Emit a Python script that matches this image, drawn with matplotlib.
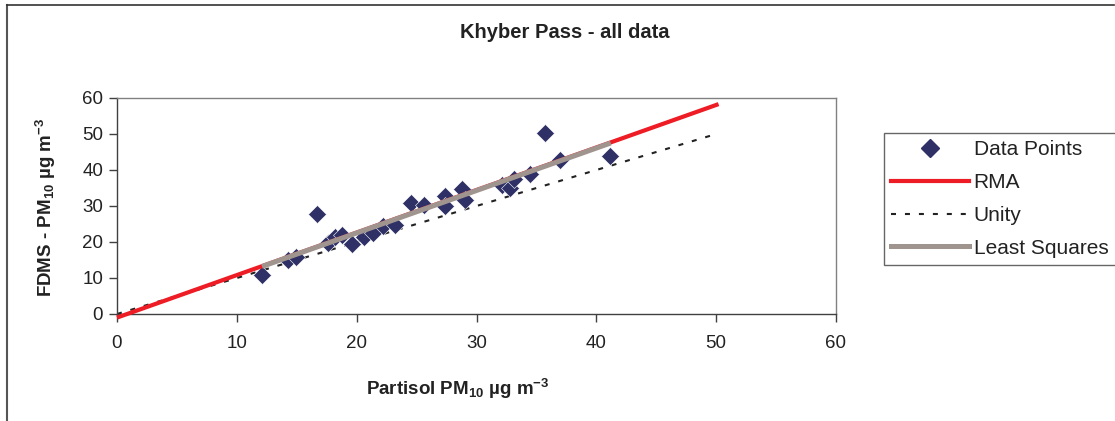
import matplotlib
matplotlib.use("Agg")
import matplotlib.pyplot as plt
from matplotlib.lines import Line2D

plt.rcParams['font.family'] = ['Liberation Sans', 'DejaVu Sans']
plt.rcParams['mathtext.fontset'] = 'custom'
plt.rcParams['mathtext.rm'] = 'Liberation Sans'
plt.rcParams['mathtext.bf'] = 'Liberation Sans:bold'
plt.rcParams['mathtext.it'] = 'Liberation Sans:italic'

# Data points (Partisol, FDMS)
data_x = [12.1, 14.3, 14.9, 16.7, 17.6, 18.2, 18.8, 19.6, 20.6, 21.4, 22.2, 23.2,
          24.5, 25.6, 27.4, 27.4, 28.8, 29.0, 32.1, 32.8, 33.1, 34.5, 35.7, 37.0, 41.1]
data_y = [10.7, 15.0, 15.9, 27.7, 19.7, 21.3, 22.0, 19.4, 21.5, 22.6, 24.5, 24.8,
          30.7, 30.3, 32.9, 30.0, 34.6, 31.8, 35.9, 35.0, 37.5, 38.8, 50.2, 42.8, 44.0]

# Fit lines (end points)
rma_x = [0.0, 50.2]
rma_y = [-1.0, 58.3]
unity_x = [0.0, 50.2]
unity_y = [0.0, 50.2]
ls_x = [12.1, 41.2]
ls_y = [13.2, 47.5]

xticks = [0, 10, 20, 30, 40, 50, 60]
yticks = [0, 10, 20, 30, 40, 50, 60]

title = "Khyber Pass - all data"
xlabel = r"Partisol PM$_{\mathbf{10}}$ µg m$^{\mathbf{-3}}$"
ylabel = r"FDMS - PM$_{\mathbf{10}}$ µg m$^{\mathbf{-3}}$"

W, H = 1115, 421
fig = plt.figure(figsize=(W / 100, H / 100), dpi=100)
ax = fig.add_axes([117 / W, 1 - 314 / H, (836 - 117) / W, (314 - 98) / H])

navy = '#2E3066'
red = '#EE1C25'
taupe = '#A0948F'

ax.plot(unity_x, unity_y, color='#222222', lw=1.5, linestyle=(0, (2.4, 4.3)), zorder=2)
ax.plot(data_x, data_y, linestyle='none', marker='D', ms=9.5, color=navy,
        markeredgecolor='white', markeredgewidth=0.4, zorder=3)
ax.plot(rma_x, rma_y, color=red, lw=3.0, solid_capstyle='butt', zorder=4, clip_on=False)
ax.plot(ls_x, ls_y, color=taupe, lw=3.6, solid_capstyle='butt', zorder=5)

ax.set_xlim(0, 60)
ax.set_ylim(0, 60)
ax.set_xticks(xticks)
ax.set_yticks(yticks)
ax.tick_params(axis='both', direction='out', length=6, width=1, color='#404040',
               labelsize=13.5, labelcolor='#222222')
ax.tick_params(axis='x', pad=9)
ax.tick_params(axis='y', pad=4)
for s in ax.spines.values():
    s.set_color('#808080')
    s.set_linewidth(1.0)
ax.spines['left'].set_color('#404040')
ax.spines['bottom'].set_color('#404040')

fig.text(565 / W, 1 - 33 / H, title, ha='center', va='center', fontsize=14.5,
         fontweight='bold', color='#222222')
fig.text(458 / W, 1 - 389 / H, xlabel, ha='center', va='center', fontsize=13.5,
         fontweight='bold', color='#222222')
fig.text(46 / W, 1 - 207 / H, ylabel, ha='center', va='center', fontsize=13.5,
         fontweight='bold', color='#222222', rotation=90)

handles = [
    Line2D([], [], linestyle='none', marker='D', ms=9, color=navy),
    Line2D([], [], color=red, lw=3.0),
    Line2D([], [], color='#222222', lw=1.5, linestyle=(0, (2.4, 4.3))),
    Line2D([], [], color=taupe, lw=3.6),
]
labels = ['Data Points', 'RMA', 'Unity', 'Least Squares']
leg = fig.legend(handles, labels, loc='upper left',
                 bbox_to_anchor=(884 / W, 1 - 133 / H),
                 frameon=True, fancybox=False, fontsize=15, handlelength=3.75,
                 handletextpad=0.2, borderpad=0.35, labelspacing=0.66,
                 borderaxespad=0, edgecolor='#404040')
leg.get_frame().set_linewidth(1.0)
for t in leg.get_texts():
    t.set_color('#222222')

# Outer chart frame (top and left visible)
fig.add_artist(Line2D([7 / W, 7 / W], [0, 1 - 5 / H], color='#555555', lw=1.5,
                      transform=fig.transFigure))
fig.add_artist(Line2D([7 / W, 1114 / W], [1 - 5 / H, 1 - 5 / H], color='#333333', lw=1.2,
                      transform=fig.transFigure))

fig.savefig('out.png', dpi=100)
